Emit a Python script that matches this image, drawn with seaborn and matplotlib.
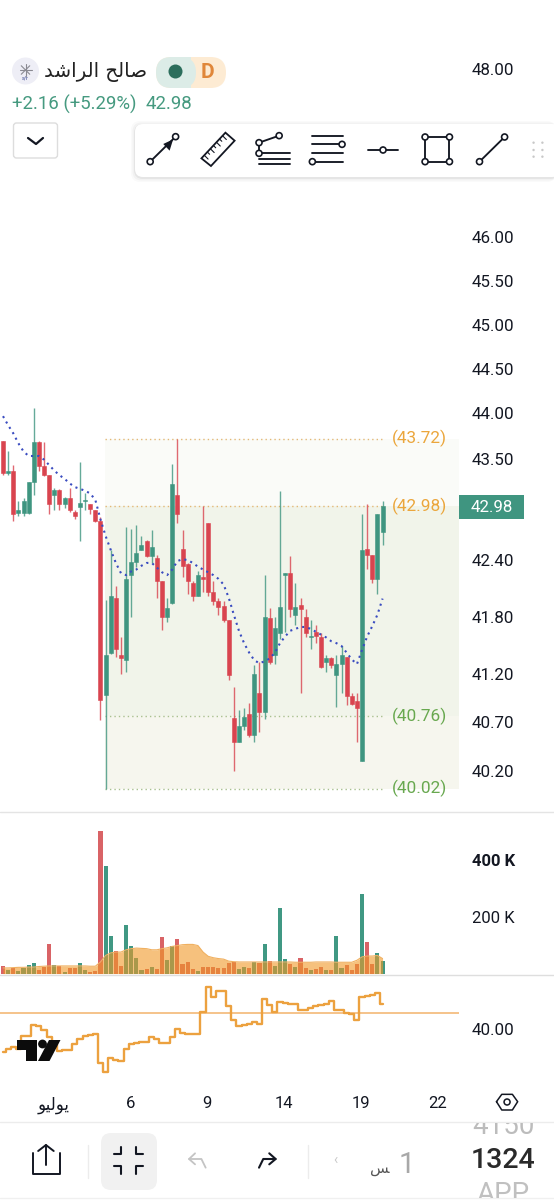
import numpy as np
import pandas as pd
import matplotlib
matplotlib.use('Agg')
import matplotlib.pyplot as plt
import seaborn as sns
from matplotlib.patches import FancyBboxPatch, Polygon, Circle, Rectangle
from matplotlib.ticker import NullLocator

# ----------------------------- Data -----------------------------

opens = [43.70, 43.34, 43.36, 42.91, 42.91, 42.91, 43.24, 43.68, 43.42, 43.32,
         43.10, 43.16, 43.00, 43.07, 42.92, 42.97, 43.04, 43.00, 42.94, 42.82,
         40.98, 41.42, 42.00, 41.40, 41.34, 42.24, 42.38, 42.51, 42.60, 42.44,
         42.42, 42.18, 41.79, 41.94, 43.10, 42.52, 42.36, 42.16, 42.02, 42.22,
         42.80, 42.06, 41.96, 41.91, 41.76, 40.74, 40.50, 40.66, 40.78, 40.57,
         41.00, 40.80, 41.78, 41.40, 41.63, 42.24, 42.26, 41.82, 41.92, 41.80,
         41.58, 41.64, 41.58, 41.32, 41.36, 41.19, 41.30, 41.38, 40.97, 40.92,
         40.30, 42.52, 42.46, 42.20, 42.70]
highs = [43.70, 43.58, 43.43, 43.04, 43.07, 43.25, 44.06, 43.70, 43.68, 43.32,
         43.18, 43.17, 43.08, 43.18, 42.94, 43.46, 43.12, 43.00, 42.94, 42.86,
         41.98, 42.51, 42.12, 41.58, 42.76, 42.74, 42.78, 42.66, 42.62, 42.72,
         42.46, 42.18, 42.00, 43.44, 43.72, 42.72, 42.37, 42.18, 42.28, 42.98,
         42.80, 42.18, 42.00, 41.96, 41.76, 41.06, 40.82, 40.85, 40.90, 41.29,
         41.32, 42.24, 41.89, 41.80, 43.15, 42.26, 42.44, 42.16, 42.00, 41.88,
         41.76, 41.71, 41.63, 41.40, 41.38, 41.40, 41.49, 41.38, 41.00, 41.00,
         42.90, 43.00, 42.46, 42.90, 43.04]
lows = [43.32, 43.32, 42.82, 42.87, 42.88, 42.90, 43.10, 43.36, 43.31, 42.90,
        42.94, 42.94, 42.96, 42.92, 42.84, 42.61, 42.94, 42.90, 42.81, 40.72,
        40.02, 41.41, 41.38, 41.20, 41.22, 41.80, 42.33, 42.51, 42.43, 42.37,
        42.00, 41.66, 41.74, 41.93, 42.80, 42.22, 42.04, 41.96, 42.02, 42.06,
        42.02, 41.92, 41.82, 41.74, 41.14, 40.20, 40.50, 40.62, 40.55, 40.50,
        40.60, 40.73, 41.30, 41.30, 41.56, 41.64, 41.80, 41.71, 41.00, 41.58,
        41.46, 41.52, 41.26, 41.22, 41.26, 40.86, 41.00, 40.88, 40.88, 40.50,
        40.30, 42.31, 42.16, 42.04, 42.56]
closes = [43.34, 43.36, 42.90, 42.94, 43.04, 43.24, 43.68, 43.42, 43.32, 43.00,
          43.16, 43.00, 43.07, 42.94, 42.87, 43.02, 43.05, 42.95, 42.82, 40.93,
          41.40, 42.02, 41.46, 41.36, 42.20, 42.38, 42.48, 42.56, 42.44, 42.54,
          42.18, 41.79, 41.89, 43.22, 42.90, 42.34, 42.18, 42.02, 42.24, 42.20,
          42.06, 41.96, 41.90, 41.76, 41.19, 40.50, 40.66, 40.75, 40.57, 41.20,
          40.80, 41.80, 41.32, 41.68, 41.90, 42.26, 41.88, 41.90, 41.88, 41.63,
          41.59, 41.60, 41.27, 41.36, 41.29, 41.30, 41.40, 40.97, 40.89, 40.85,
          42.51, 42.46, 42.20, 42.90, 42.98]
ma_line = [43.97, 43.87, 43.78, 43.67, 43.58, 43.53, 43.53, 43.53, 43.49, 43.43,
           43.37, 43.32, 43.28, 43.23, 43.19, 43.17, 43.15, 43.12, 43.05, 42.84,
           42.66, 42.51, 42.37, 42.26, 42.24, 42.28, 42.30, 42.34, 42.37, 42.37,
           42.32, 42.27, 42.24, 42.30, 42.39, 42.41, 42.40, 42.37, 42.33, 42.30,
           42.27, 42.24, 42.20, 42.14, 42.00, 41.82, 41.65, 41.52, 41.42, 41.34,
           41.31, 41.33, 41.36, 41.42, 41.52, 41.59, 41.65, 41.67, 41.69, 41.69,
           41.67, 41.64, 41.61, 41.58, 41.54, 41.52, 41.49, 41.42, 41.35, 41.30,
           41.45, 41.59, 41.70, 41.82, 41.99]
volume = [27, 13, 21, 9, 18, 30, 36, 13, 23, 106, 32, 27, 4, 19, 20, 36, 12, 7, 9, 504,
          380, 131, 78, 28, 172, 96, 56, 12, 16, 22, 16, 129, 49, 97, 123, 35, 42, 15, 8, 25,
          23, 23, 21, 19, 36, 41, 16, 22, 18, 41, 39, 106, 46, 26, 232, 53, 33, 22, 56, 20,
          11, 15, 23, 12, 12, 131, 19, 29, 12, 34, 281, 112, 34, 74, 46]
vol_ma = [20, 20, 21, 22, 22, 23, 23, 25, 26, 27, 27, 27, 27, 27, 27, 27, 27, 26, 26, 41,
          64, 73, 76, 76, 84, 88, 90, 89, 88, 84, 84, 88, 91, 96, 99, 102, 103, 103, 99, 76,
          61, 56, 53, 51, 44, 42, 41, 41, 41, 41, 41, 41, 41, 41, 41, 41, 41, 40, 40, 40,
          40, 41, 41, 41, 41, 40, 40, 40, 40, 47, 59, 62, 62, 64, 53]
rsi = [25.4, 27.5, 28.5, 27.5, 35.6, 35.6, 42.5, 42.1, 39.4, 35.2, 32.1, 26.3, 26.7, 26.7, 30.4,
       33.8, 35.6, 36.0, 36.9, 18.5, 12.9, 21.7, 20.8, 20.0, 27.5, 30.6, 31.3, 31.9, 32.1, 35.2,
       33.8, 31.5, 31.0, 35.2, 39.8, 37.7, 37.1, 36.9, 37.1, 50.8, 66.0, 60.2, 64.0, 64.0, 54.4,
       45.8, 42.1, 42.7, 42.9, 44.4, 43.1, 58.5, 55.0, 50.8, 56.9, 56.3, 55.8, 55.6, 52.1, 51.7,
       52.9, 54.6, 55.0, 55.4, 57.5, 51.9, 51.9, 49.8, 49.4, 45.6, 60.0, 60.4, 61.3, 62.7, 55.4]
rsi_level = 50

price_ticks = [48.00, 46.00, 45.50, 45.00, 44.50, 44.00, 43.50, 42.40, 41.80, 41.20, 40.70, 40.20]
last_price = 42.98
levels_up = [43.72, 42.98]
levels_down = [40.76, 40.02]
vol_ticks = [200, 400]
vol_labels = ['200 K', '400 K']
rsi_ticks = [40]
rsi_labels = ['40.00']
date_bars = [9.9, 24.8, 39.8, 54.8, 69.8, 84.7]
# visual order, shaped forms: matplotlib does no Arabic shaping itself
date_labels = ['\uFEEE\uFEF4\uFEDF\uFEEE\uFEF3', '6', '9', '14', '19', '22']
name_ar = '\uFEAA\uFEB7\uFE8D\uFEAE\uFEDF\uFE8D \uFEA2\uFEDF\uFE8E\uFEBB'
change_text = '+2.16 (+5.29%)'

GREEN = '#3f9580'
RED = '#d9444f'
VOL_GREEN = '#409883'
VOL_RED = '#d96366'
W, H = 554, 1200
FONT = ['Roboto', 'DejaVu Sans']

# ----------------------------- Figure -----------------------------

sns.set_theme(style='white')
plt.rcParams['font.family'] = FONT
plt.rcParams['text.color'] = '#131722'

fig = plt.figure(figsize=(W / 100, H / 100), dpi=100, facecolor='white')


def pane(top, bottom):
    ax = fig.add_axes([0, 1 - bottom / H, 459 / W, (bottom - top) / H])
    ax.patch.set_alpha(0)
    sns.despine(ax=ax, left=True, bottom=True, right=True, top=True)
    return ax


bars = np.arange(len(opens))
x_lim = (-0.585, 88.9)
o, hi, lo, c = map(np.array, (opens, highs, lows, closes))
up = c >= o

# --- Price pane ---
ax = pane(0, 812)
ax.set_yscale('log')

zone_x = [19.9, 88.9]
ax.fill_between(zone_x, levels_up[0], levels_up[1], color='#fafbf8', lw=0, zorder=0)
ax.fill_between(zone_x, levels_up[1], levels_down[0], color='#f1f4ea', lw=0, zorder=0)
ax.fill_between(zone_x, levels_down[0], levels_down[1], color='#f6f6ee', lw=0, zorder=0)
for lv in levels_up:
    ax.plot([19.9, 74.5], [lv, lv], color='#e3b877', lw=1, ls=(0, (1, 2.2)), zorder=1)
    ax.text(75.9, lv, f'({lv:.2f})', color='#eba63c', fontsize=12.4, va='center')
for lv in levels_down:
    ax.plot([19.9, 74.5], [lv, lv], color='#a9c08f', lw=1, ls=(0, (1, 2.2)), zorder=1)
    ax.text(75.9, lv, f'({lv:.2f})', color='#68a84f', fontsize=12.4, va='center')

colors = np.where(up, GREEN, RED)
ax.vlines(bars, lo, hi, colors=colors, lw=1.0, alpha=0.8, zorder=2)
ax.bar(bars, np.abs(c - o), bottom=np.minimum(o, c), width=0.78, color=colors,
       edgecolor=colors, lw=0.4, zorder=3)

sns.lineplot(x=bars, y=ma_line, color='#3a4cc0', lw=1.5, linestyle=(0, (1, 2)),
             estimator=None, sort=False, ax=ax, zorder=4)

ax.set_xlim(x_lim)
ax.set_ylim(48 * np.exp(-743 / 3959), 48 * np.exp(69 / 3959))
ax.yaxis.tick_right()
ax.set_yticks(price_ticks)
ax.set_yticklabels([f'{t:.2f}' for t in price_ticks])
ax.yaxis.set_minor_locator(NullLocator())
ax.tick_params(axis='y', length=0, pad=9.4, labelsize=12.2, labelcolor='#131722', which='both')
ax.set_xticks([])
ax.set_xlabel('')
ax.set_ylabel('')

# --- Volume pane ---
ax_vol = pane(813, 975)
vol_df = pd.DataFrame({'bar': bars, 'volume': volume, 'dir': np.where(up, 'up', 'down')})
sns.barplot(data=vol_df, x='bar', y='volume', hue='dir', palette={'up': VOL_GREEN, 'down': VOL_RED},
            dodge=False, native_scale=True, width=0.8, saturation=1, errorbar=None,
            legend=False, linewidth=0, ax=ax_vol, zorder=2)
ax_vol.fill_between(bars, 0, vol_ma, color='#f09926', alpha=0.6, lw=0, zorder=3)
ax_vol.plot(bars, vol_ma, color='#f0b060', lw=0.8, zorder=3)
ax_vol.set_xlim(x_lim)
ax_vol.set_ylim(-5, 567)
ax_vol.yaxis.tick_right()
ax_vol.set_yticks(vol_ticks)
ax_vol.set_yticklabels(vol_labels)
ax_vol.tick_params(axis='y', length=0, pad=9.4, labelsize=12, labelcolor='#131722')
ax_vol.get_yticklabels()[1].set_fontweight('bold')
ax_vol.set_xticks([])
ax_vol.set_xlabel('')
ax_vol.set_ylabel('')

# --- Oscillator pane ---
ax_rsi = pane(976, 1090)
ax_rsi.axhline(rsi_level, color='#f2b36b', lw=1.1, zorder=1)
sns.lineplot(x=bars, y=rsi, color='#eca13f', lw=1.7, drawstyle='steps-mid',
             estimator=None, sort=False, ax=ax_rsi, zorder=2)
ax_rsi.set_xlim(x_lim)
ax_rsi.set_ylim(40 + (1029 - 1090) / 1.6, 40 + (1029 - 976) / 1.6)
ax_rsi.yaxis.tick_right()
ax_rsi.set_yticks(rsi_ticks)
ax_rsi.set_yticklabels(rsi_labels)
ax_rsi.tick_params(axis='y', length=0, pad=9.4, labelsize=12.2, labelcolor='#131722')
ax_rsi.set_xticks(date_bars)
ax_rsi.set_xticklabels(date_labels)
ax_rsi.tick_params(axis='x', length=0, pad=4.5, labelsize=12, labelcolor='#131722')
ax_rsi.get_xticklabels()[0].set_fontfamily('DejaVu Sans')
ax_rsi.set_xlabel('')
ax_rsi.set_ylabel('')

# ----------------------------- App chrome (pixel coordinates) -----------------------------

ui = fig.add_axes([0, 0, 1, 1], zorder=10)
ui.set_xlim(0, W)
ui.set_ylim(H, 0)
ui.axis('off')
ui.patch.set_alpha(0)


def zt(x, y):
    return x / 2.83, 50 + y / 3


def zb(x, y):
    return x / 2.83, 1085 + y / 3


def seg(pts, color='#131722', lw=1.35, **kw):
    xs, ys = zip(*pts)
    ui.plot(xs, ys, color=color, lw=lw, solid_capstyle='round', solid_joinstyle='round', **kw)


def dot(p, r=3.0):
    ui.add_patch(Circle(p, r, fc='white', ec='#131722', lw=1.2, zorder=5))


for y, col in [(812, '#e4e4e4'), (975, '#dedede'), (1122, '#ececec'), (1198, '#f0f0f0')]:
    ui.plot([0, W], [y, y], color=col, lw=1)

# price badge
ui.add_patch(Rectangle((459, 495), 65, 24, fc='#3f9580', ec='none'))
ui.text(491.5, 507.5, f'{last_price:.2f}', color='white', fontsize=12.2, ha='center', va='center')

# header
ui.add_patch(Circle((25.5, 71), 13.5, fc='#eeeef6', ec='none'))
for a in np.linspace(0, np.pi, 5)[:-1]:
    ui.plot([25.5 - 6 * np.cos(a), 25.5 + 6 * np.cos(a)], [70 - 6 * np.sin(a), 70 + 6 * np.sin(a)],
            color='#8a8a92', lw=0.8)
ui.text(25.5, 78, 's/r', color='#3a4a90', fontsize=4, ha='center', va='center')
ui.text(44, 72, name_ar, fontsize=14.2, family='DejaVu Sans', color='#222222', va='center')
ui.add_patch(FancyBboxPatch((156, 57), 70, 31, boxstyle='round,pad=0,rounding_size=15.5', fc='#fdebd3', ec='none'))
ui.add_patch(FancyBboxPatch((156, 57), 40, 31, boxstyle='round,pad=0,rounding_size=15.5', fc='#dcece7', ec='none'))
ui.add_patch(Rectangle((180, 57), 11, 31, fc='#dcece7', ec='none'))
ui.add_patch(Circle((175.5, 71.5), 7, fc='#2c6e5c', ec='none'))
ui.text(207.5, 72, 'D', color='#e0873a', fontsize=15, fontweight='bold', ha='center', va='center')
ui.text(12, 104, change_text, color='#469a80', fontsize=13.4, va='center')
ui.text(146, 104, f'{last_price:.2f}', color='#469a80', fontsize=13.4, va='center')

# dropdown
ui.add_patch(FancyBboxPatch((13.5, 123), 44, 35, boxstyle='round,pad=0,rounding_size=3', fc='white', ec='#dddddd', lw=1))
seg([(28, 138), (36, 144), (43, 138)], lw=1.6)

# toolbar
for grow, alpha in ((4, 0.02), (2.5, 0.03), (1, 0.05)):
    ui.add_patch(FancyBboxPatch((135 - grow, 124 - grow + 1), 425, 53 + 2 * grow, boxstyle='round,pad=0,rounding_size=9',
                                fc='#000000', ec='none', alpha=alpha))
ui.add_patch(FancyBboxPatch((135, 124), 425, 53, boxstyle='round,pad=0,rounding_size=8', fc='white', ec='none'))
seg([zt(425, 335), zt(497, 260)])
ui.add_patch(Polygon([zt(462, 282), zt(490, 268), zt(480, 302)], fc='#131722', ec='none', zorder=4))
dot(zt(425, 335))
dot(zt(497, 260))
ruler = [zt(570, 325), zt(638, 248), zt(664, 272), zt(597, 348)]
ui.add_patch(Polygon(ruler, fc='white', ec='#131722', lw=1.3))
for t, tick in zip(np.linspace(0.12, 0.88, 7), [10, 6, 10, 6, 10, 6, 10]):
    a = np.array(zt(570, 325)) + t * (np.array(zt(638, 248)) - np.array(zt(570, 325)))
    seg([a, a + np.array([tick * 0.38, tick * 0.38])], lw=0.8)
seg([zt(733, 278), zt(790, 257)])
seg([zt(733, 278), zt(733, 310)])
for yy in (310, 326, 343):
    seg([zt(733, yy), zt(820, yy)])
dot(zt(733, 278))
dot(zt(790, 257))
dot(zt(733, 310))
for yy, x0 in ((257, 882), (283, 882), (308, 882), (335, 884)):
    seg([zt(x0, yy), zt(970, yy)])
dot(zt(968, 283))
dot(zt(884, 335))
seg([zt(1042, 300), zt(1125, 300)])
dot(zt(1084, 300))
sq = [zt(1203, 261), zt(1272, 261), zt(1272, 335), zt(1203, 335), zt(1203, 261)]
seg(sq)
for p in sq[:4]:
    dot(p)
seg([zt(1357, 335), zt(1428, 261)])
dot(zt(1357, 335))
dot(zt(1428, 261))
for xx in (1510, 1535):
    for yy in (278, 300, 320):
        ui.add_patch(Circle(zt(xx, yy), 1.2, fc='#c8c8c8', ec='none'))

# logo
ui.add_patch(Polygon([(17, 1040), (37, 1040), (37, 1061), (26, 1061), (26, 1050), (17, 1050)], fc='#0c0c0c', ec='none'))
ui.add_patch(Circle((42.5, 1044), 4.4, fc='#0c0c0c', ec='none'))
ui.add_patch(Polygon([(49, 1040), (60.5, 1040), (49.5, 1061), (38, 1061)], fc='#0c0c0c', ec='none'))

# settings hexagon
hexa = [zb(1405, 50), zb(1420, 28), zb(1450, 28), zb(1465, 50), zb(1450, 75), zb(1420, 75), zb(1405, 50)]
seg(hexa, lw=1.1)
ui.add_patch(Circle(zb(1435, 51), 3, fc='none', ec='#131722', lw=1.1))

# bottom bar
seg([zb(92, 205), zb(92, 268), zb(170, 268), zb(170, 205)], lw=1.4)
seg([zb(130, 240), zb(130, 180)], lw=1.4)
seg([zb(108, 198), zb(130, 180), zb(152, 198)], lw=1.4)
for x_div, y_a, y_b in ((248, 180, 280), (872, 180, 280)):
    ui.plot(*zip(zb(x_div, y_a), zb(x_div, y_b)), color='#ececec', lw=1)
ui.add_patch(FancyBboxPatch((101, 1133), 56, 57, boxstyle='round,pad=0,rounding_size=10', fc='#f1f1f1', ec='none'))
seg([zb(322, 208), zb(342, 208), zb(342, 185)], lw=1.5)
seg([zb(385, 185), zb(385, 208), zb(404, 208)], lw=1.5)
seg([zb(322, 242), zb(342, 242), zb(342, 268)], lw=1.5)
seg([zb(404, 242), zb(385, 242), zb(385, 268)], lw=1.5)
seg([zb(582, 248), zb(570, 222), zb(535, 222)], color='#c4c4c4', lw=1.3)
seg([zb(552, 205), zb(535, 222), zb(552, 238)], color='#c4c4c4', lw=1.3)
seg([zb(733, 248), zb(745, 222), zb(780, 222)], lw=1.5)
seg([zb(762, 205), zb(780, 222), zb(762, 238)], lw=1.5)
ui.text(*zb(1150, 240), '1', color='#a8a8a8', fontsize=21, ha='center', va='center')
ui.text(*zb(1075, 252), '\uFEB2', color='#555555', fontsize=11, family='DejaVu Sans', ha='center', va='center')
ui.text(*zb(950, 226), '\u2039', color='#c8c8c8', fontsize=10, ha='center', va='center')
ui.text(*zb(1425, 228), '1324', color='#2a2a2a', fontsize=20.5, fontweight='medium', ha='center', va='center')
t1 = ui.text(*zb(1425, 125), '4150', color='#bcbcbc', fontsize=20, ha='center', va='center')
t1.set_clip_on(True)
t1.set_clip_path(Rectangle((440, 1123), 114, 40, transform=ui.transData))
t2 = ui.text(*zb(1425, 328), 'APP', color='#c0c0c0', fontsize=20, ha='center', va='center')
t2.set_clip_on(True)
t2.set_clip_path(Rectangle((440, 1170), 114, 28, transform=ui.transData))

fig.savefig('out.png', dpi=100, facecolor='white')
